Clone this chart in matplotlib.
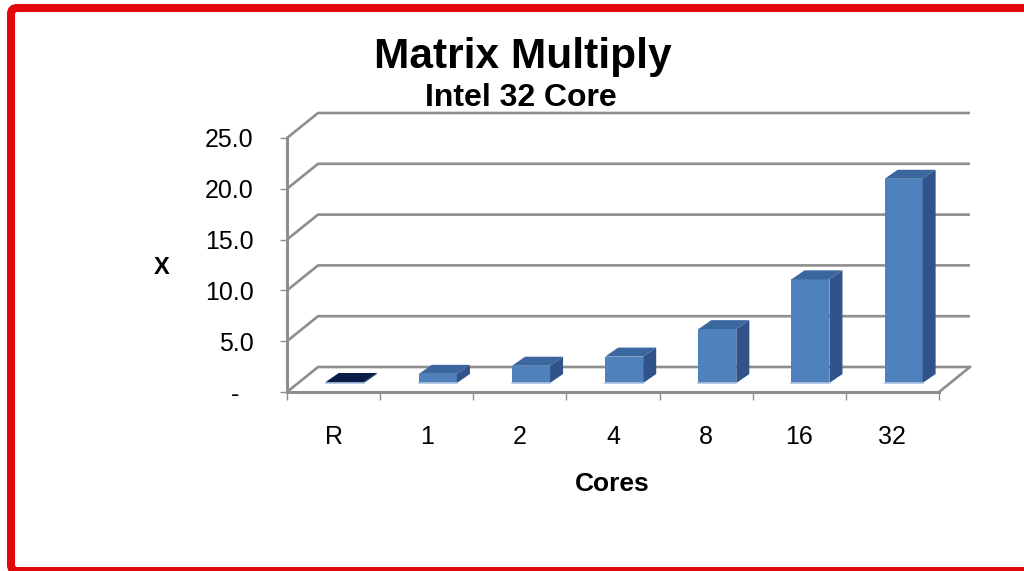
import matplotlib
matplotlib.use("Agg")
import matplotlib.pyplot as plt
from matplotlib.patches import Polygon, FancyBboxPatch

plt.rcParams['font.family'] = ['Liberation Sans', 'DejaVu Sans']

# speedup per core count, R = serial R baseline
cores = ['R', '1', '2', '4', '8', '16', '32']
speedup = [0.1, 0.9, 1.7, 2.6, 5.3, 10.2, 20.1]
yticks = [0, 5, 10, 15, 20, 25]

# fake 3d: offset of the back wall and of each bar's depth (data units)
DX, DY = 0.333, 2.46
F = 0.36           # how far back the bar front faces sit
BW = 0.408         # bar width
BX, BY = 0.14, 0.886

grid_col = '#8e8e8e'

fig = plt.figure(figsize=(10.24, 5.71), dpi=100)
ax = fig.add_axes([287 / 1024, (571 - 392) / 571, 683 / 1024, 279 / 571])
ax.set_xlim(-0.5, 6.5 + DX)
ax.set_ylim(0, 25 + DY)
ax.patch.set_alpha(0)

# back wall gridlines + left wall diagonals
for v in yticks:
    ax.plot([-0.5, -0.5 + DX, 6.5 + DX], [v, v + DY, v + DY],
            color=grid_col, lw=1.9, clip_on=False, zorder=1,
            solid_capstyle='butt')
# right edge of the floor
ax.plot([6.5, 6.5 + DX], [0, DY], color=grid_col, lw=1.9, clip_on=False, zorder=1)

# bars: front faces through ax.bar, top/side faces as polygons
base = F * DY
xs = [i + F * DX for i in range(len(cores))]
fronts = ['#0c2150'] + ['#4f81bd'] * 6
tops = ['#0a1d48'] + ['#3b679f'] * 6
sides = ['#081a40'] + ['#30548a'] * 6
ax.bar(xs, speedup, width=BW, bottom=base, color=fronts, zorder=3, linewidth=0)
for x, v, tc, sc in zip(xs, speedup, tops, sides):
    x0, x1 = x - BW / 2, x + BW / 2
    top = v + base
    ax.add_patch(Polygon([(x0, top), (x1, top), (x1 + BX, top + BY), (x0 + BX, top + BY)],
                         closed=True, facecolor=tc, edgecolor='none', zorder=3))
    ax.add_patch(Polygon([(x1, base), (x1 + BX, base + BY), (x1 + BX, top + BY), (x1, top)],
                         closed=True, facecolor=sc, edgecolor='none', zorder=3))
    ax.plot([x0, x1], [base, base], color='#a9c1e0', lw=1.2, zorder=4)

# axes / spines
for s in ['top', 'right']:
    ax.spines[s].set_visible(False)
ax.spines['left'].set_bounds(0, 25)
ax.spines['bottom'].set_bounds(-0.5, 6.5)
for s in ['left', 'bottom']:
    ax.spines[s].set_color(grid_col)
    ax.spines[s].set_linewidth(2.2)
    ax.spines[s].set_zorder(2)

ax.set_yticks(yticks)
ax.set_yticklabels(['-  '] + ['%.1f' % v for v in yticks[1:]])
ax.tick_params(axis='y', length=5, width=1, color=grid_col, pad=19,
               labelsize=18, labelcolor='black')

ax.set_xticks(range(len(cores)))
ax.set_xticklabels(cores)
ax.set_xticks([i - 0.5 for i in range(len(cores) + 1)], minor=True)
ax.tick_params(axis='x', which='major', length=0, pad=24, labelsize=18)
ax.tick_params(axis='x', which='minor', length=6, width=1, color=grid_col)

fig.text(523 / 1024, 1 - 68 / 571, 'Matrix Multiply', ha='center', va='baseline',
         fontsize=30.5, fontweight='bold')
fig.text(521 / 1024, 1 - 106 / 571, 'Intel 32 Core', ha='center', va='baseline',
         fontsize=23, fontweight='bold')
fig.text(162 / 1024, 1 - 268 / 571, 'X', ha='center', va='center',
         fontsize=17, fontweight='bold')
fig.text(612 / 1024, 1 - 484 / 571, 'Cores', ha='center', va='center',
         fontsize=19, fontweight='bold')

# red frame around the whole chart
frame = FancyBboxPatch((0.11, 0.0), 10.4, 5.63,
                       boxstyle='round,pad=0,rounding_size=0.06',
                       transform=fig.dpi_scale_trans, fill=False,
                       edgecolor='#e00808', linewidth=5.8, clip_on=False)
fig.patches.append(frame)

fig.savefig('out.png', dpi=100)
plt.close(fig)
